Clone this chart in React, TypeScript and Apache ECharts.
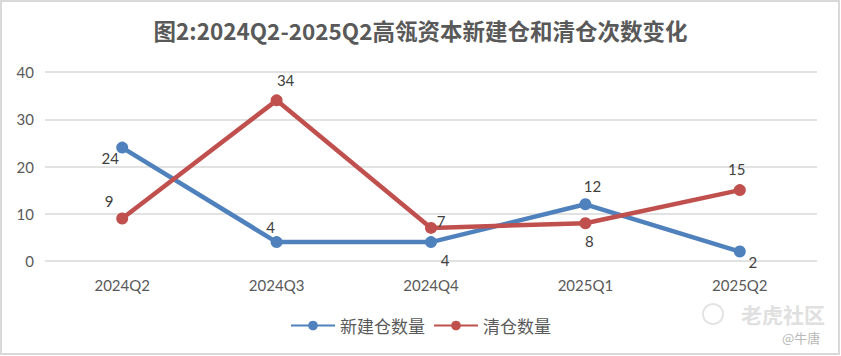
import React, { useEffect, useRef } from "react";
import * as echarts from "echarts";

const categories = ["2024Q2", "2024Q3", "2024Q4", "2025Q1", "2025Q2"];
const newPositions = [24, 4, 4, 12, 2];
const clearPositions = [9, 34, 7, 8, 15];
const newOffsets = [[-12, 10], [-6, -15], [14, 18], [7, -18], [13, 10]];
const clearOffsets = [[-13, -17], [9, -20], [10, -7], [4, 18], [-3, -21]];

const FONT = "'Noto Sans CJK SC', 'Noto Sans', sans-serif";
const NUMFONT = "Lato, 'Noto Sans', sans-serif";

export default function App() {
  const ref = useRef<HTMLDivElement>(null);
  useEffect(() => {
    const chart = echarts.init(ref.current!, null, { renderer: "svg" });
    const mk = (vals: number[], offs: number[][]) =>
      vals.map((v, i) => ({
        value: v,
        label: { offset: offs[i] },
      }));
    chart.setOption({
      animation: false,
      backgroundColor: "#ffffff",
      title: {
        text: "图2:2024Q2-2025Q2高瓴资本新建仓和清仓次数变化",
        left: "center",
        top: 14,
        textStyle: {
          fontFamily: FONT,
          fontSize: 22.5,
          fontWeight: "bold",
          color: "#595959",
        },
      },
      grid: { left: 45, right: 24, top: 72, bottom: 95 },
      legend: {
        bottom: 17,
        left: "center",
        itemWidth: 44,
        itemHeight: 12,
        itemGap: 8,
        textStyle: { fontFamily: FONT, fontSize: 17, color: "#595959" },
        data: ["新建仓数量", "清仓数量"],
      },
      xAxis: {
        type: "category",
        data: categories,
        axisLine: { show: false },
        axisTick: { show: false },
        axisLabel: { fontFamily: NUMFONT, fontSize: 15, color: "#595959", margin: 16 },
      },
      yAxis: {
        type: "value",
        min: 0,
        max: 40,
        interval: 10,
        axisLine: { show: false },
        axisTick: { show: false },
        splitLine: { lineStyle: { color: "#d9d9d9", width: 1.5 } },
        axisLabel: { fontFamily: NUMFONT, fontSize: 15, color: "#595959", margin: 11 },
      },
      series: [
        {
          name: "新建仓数量",
          type: "line",
          data: mk(newPositions, newOffsets),
          symbol: "circle",
          symbolSize: 12,
          color: "#4F81BD",
          lineStyle: { width: 4.5, color: "#4F81BD" },
          label: {
            show: true,
            position: "inside",
            fontFamily: NUMFONT,
            fontSize: 15,
            color: "#404040",
          },
        },
        {
          name: "清仓数量",
          type: "line",
          data: mk(clearPositions, clearOffsets),
          symbol: "circle",
          symbolSize: 12,
          color: "#C0504D",
          lineStyle: { width: 4.5, color: "#C0504D" },
          label: {
            show: true,
            position: "inside",
            fontFamily: NUMFONT,
            fontSize: 15,
            color: "#404040",
          },
        },
      ],
      graphic: [
        {
          type: "rect",
          shape: { x: 1, y: 1, width: 838, height: 353 },
          style: { fill: "none", stroke: "#d9d9d9", lineWidth: 2 },
          silent: true,
        },
        {
          type: "circle",
          shape: { cx: 713, cy: 314, r: 10 },
          style: { fill: "none", stroke: "#e3e3e3", lineWidth: 2 },
          silent: true,
        },
        {
          type: "text",
          x: 741,
          y: 303,
          style: {
            text: "老虎社区",
            fontFamily: FONT,
            fontSize: 21,
            fill: "#e0e0e0",
            fontWeight: "bold",
          },
          silent: true,
        },
        {
          type: "text",
          x: 782,
          y: 331,
          style: {
            text: "@牛唐",
            fontFamily: FONT,
            fontSize: 13,
            fill: "#b8b8b8",
          },
          silent: true,
        },
      ],
    });
    return () => chart.dispose();
  }, []);
  return (
    <div
      ref={ref}
      style={{ position: "absolute", left: 0, top: 0, width: 841, height: 356 }}
    />
  );
}
